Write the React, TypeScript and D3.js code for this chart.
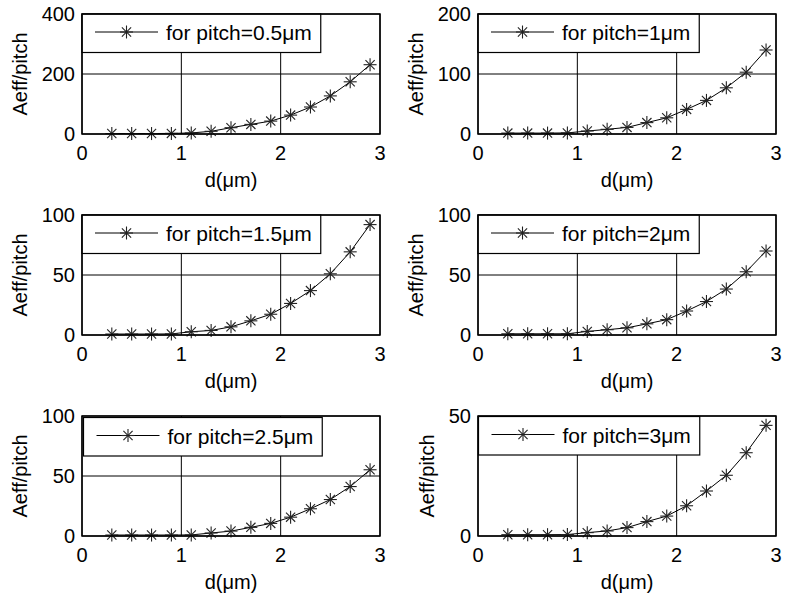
import React, { useEffect, useRef } from "react";
import * as d3 from "d3";

// ---- data ----
const dValues = [0.3, 0.5, 0.7, 0.9, 1.1, 1.3, 1.5, 1.7, 1.9, 2.1, 2.3, 2.5, 2.7, 2.9];
const pitchLabels = ["0.5", "1", "1.5", "2", "2.5", "3"];
const aeffPitch05 = [1.5, 1.5, 1.5, 2, 3.5, 9, 21, 32, 43, 63, 90, 127, 174, 231];
const aeffPitch1 = [1.5, 1.5, 1.5, 1.8, 5, 7.8, 11, 19, 27, 41, 56, 77, 103, 140];
const aeffPitch15 = [0.8, 0.8, 0.8, 0.9, 2.7, 3.8, 6.8, 11.8, 17.3, 26.3, 37, 51, 69.3, 92];
const aeffPitch2 = [1, 1, 1, 1, 3, 4.4, 6, 9.3, 12.8, 20, 27.9, 38.3, 52.7, 70];
const aeffPitch25 = [0.8, 0.8, 0.8, 0.8, 0.9, 2.5, 4.1, 7.2, 10.5, 15.7, 22.7, 30.4, 41.2, 55.2];
const aeffPitch3 = [0.55, 0.55, 0.55, 0.6, 1.4, 2.1, 3.5, 6, 8.3, 12.6, 18.75, 25.3, 34.7, 46.1];
const yDomainMax = [400, 200, 100, 100, 100, 50];
const yTickValues = [[0, 200, 400], [0, 100, 200], [0, 50, 100], [0, 50, 100], [0, 50, 100], [0, 50]];
const xTickValues = [0, 1, 2, 3];
const xLabelText = "d(μm)";
const yLabelText = "Aeff/pitch";

const allSeries = [aeffPitch05, aeffPitch1, aeffPitch15, aeffPitch2, aeffPitch25, aeffPitch3];

// ---- layout ----
const W = 785;
const H = 596;
const colLeft = [82, 478];
const rowTop = [14, 215, 416];
const plotW = 298;
const plotH = 120;
const legendOffset = [0, 0, 0, 0, 1.5, 0.5];
const FONT = "'Liberation Sans', Arial, Helvetica, sans-serif";
const FS = 20;
const LFS = 21;

export default function App() {
  const ref = useRef<SVGSVGElement | null>(null);

  useEffect(() => {
    const svg = d3.select(ref.current);
    svg.selectAll("*").remove();
    svg.append("rect").attr("width", W).attr("height", H).attr("fill", "#fff");

    allSeries.forEach((series, i) => {
      const col = i % 2;
      const row = Math.floor(i / 2);
      const g = svg
        .append("g")
        .attr("transform", `translate(${colLeft[col]},${rowTop[row]})`)
        .style("font-family", FONT)
        .style("font-size", `${FS}px`);

      const x = d3.scaleLinear().domain([0, 3]).range([0, plotW]);
      const y = d3.scaleLinear().domain([0, yDomainMax[i]]).range([plotH, 0]);

      // grid
      g.selectAll(".gx")
        .data(xTickValues)
        .enter()
        .append("line")
        .attr("x1", (d) => x(d))
        .attr("x2", (d) => x(d))
        .attr("y1", 0)
        .attr("y2", plotH)
        .attr("stroke", "#000")
        .attr("stroke-width", 1);
      g.selectAll(".gy")
        .data(yTickValues[i])
        .enter()
        .append("line")
        .attr("x1", 0)
        .attr("x2", plotW)
        .attr("y1", (d) => y(d))
        .attr("y2", (d) => y(d))
        .attr("stroke", "#000")
        .attr("stroke-width", 1);

      // data line
      const pts = dValues.map((d, k) => [d, series[k]] as [number, number]);
      const line = d3
        .line<[number, number]>()
        .x((p) => x(p[0]))
        .y((p) => y(p[1]));
      g.append("path")
        .attr("d", line(pts) || "")
        .attr("fill", "none")
        .attr("stroke", "#000")
        .attr("stroke-width", 1);

      const star = (sel: any, cx: number, cy: number) => {
        const r = 6.5;
        const q = 4.6;
        const segs = [
          [-r, 0, r, 0],
          [0, -r, 0, r],
          [-q, -q, q, q],
          [-q, q, q, -q],
        ];
        segs.forEach((s) =>
          sel
            .append("line")
            .attr("x1", cx + s[0])
            .attr("y1", cy + s[1])
            .attr("x2", cx + s[2])
            .attr("y2", cy + s[3])
            .attr("stroke", "#222")
            .attr("stroke-width", 1.1)
        );
      };
      pts.forEach((p) => star(g, x(p[0]), y(p[1])));

      // legend
      const lo = legendOffset[i];
      const lg = g.append("g").attr("transform", `translate(${lo},${lo})`);
      const lrect = lg
        .append("rect")
        .attr("x", 0)
        .attr("y", 0)
        .attr("height", 38.5)
        .attr("fill", "#fff")
        .attr("stroke", "#000")
        .attr("stroke-width", 1.2);
      lg.append("line")
        .attr("x1", 13)
        .attr("x2", 76)
        .attr("y1", 18)
        .attr("y2", 18)
        .attr("stroke", "#000")
        .attr("stroke-width", 1);
      star(lg, 44.5, 18);
      const lt = lg
        .append("text")
        .attr("x", 84)
        .attr("y", 26)
        .attr("fill", "#000")
        .style("font-size", `${LFS}px`)
        .text(`for pitch=${pitchLabels[i]}μm`);
      const tl = (lt.node() as SVGTextElement).getComputedTextLength();
      lrect.attr("width", 84 + tl + 9);

      // box
      g.append("rect")
        .attr("x", 0)
        .attr("y", 0)
        .attr("width", plotW)
        .attr("height", plotH)
        .attr("fill", "none")
        .attr("stroke", "#000")
        .attr("stroke-width", 1.5);

      // y tick labels
      let maxW = 0;
      yTickValues[i].forEach((v) => {
        const t = g
          .append("text")
          .attr("x", -7)
          .attr("y", y(v))
          .attr("dy", "0.36em")
          .attr("text-anchor", "end")
          .attr("fill", "#000")
          .text(String(v));
        maxW = Math.max(maxW, (t.node() as SVGTextElement).getComputedTextLength());
      });
      // x tick labels
      xTickValues.forEach((v) => {
        g.append("text")
          .attr("x", x(v))
          .attr("y", plotH + 26)
          .attr("text-anchor", "middle")
          .attr("fill", "#000")
          .text(String(v));
      });
      // axis labels
      g.append("text")
        .attr("x", plotW / 2)
        .attr("y", plotH + 53)
        .attr("text-anchor", "middle")
        .attr("fill", "#000")
        .text(xLabelText);
      const yl = -(7 + maxW + 15);
      g.append("text")
        .attr("transform", `translate(${yl},${plotH / 2}) rotate(-90)`)
        .attr("text-anchor", "middle")
        .attr("fill", "#000")
        .text(yLabelText);
    });
  }, []);

  return (
    <svg
      ref={ref}
      width={W}
      height={H}
      style={{ position: "absolute", left: 0, top: 0, display: "block" }}
    />
  );
}
